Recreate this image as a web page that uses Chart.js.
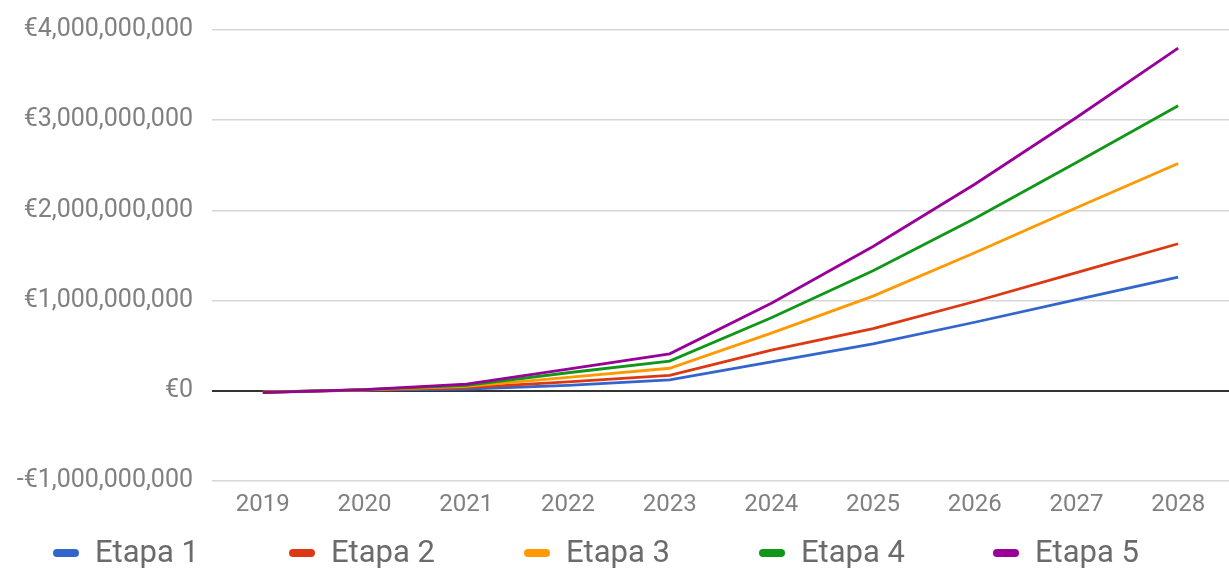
<!DOCTYPE html>
<html>
<head>
<meta charset="utf-8">
<script src="https://cdn.jsdelivr.net/npm/chart.js@4/dist/chart.umd.min.js"></script>
<style>
  html, body { margin: 0; padding: 0; background: #fff; }
  #wrap { position: relative; width: 1229px; height: 570px; }
  #legend { position: absolute; left: 0; top: 534px; width: 1229px; height: 36px; font-family: Roboto, sans-serif; font-size: 31px; color: #6b6b6b; }
  .item { position: absolute; top: 0; height: 36px; line-height: 36px; white-space: nowrap; }
  .swatch { position: absolute; left: 0; top: 15px; width: 26px; height: 8px; border-radius: 4px; }
  .label { position: absolute; left: 42px; top: 0; }
</style>
</head>
<body>
<div id="wrap">
  <canvas id="growth" width="1229" height="570"></canvas>
  <div id="legend"></div>
</div>
<script>
// years on the x axis
const years = ['2019', '2020', '2021', '2022', '2023', '2024', '2025', '2026', '2027', '2028'];

// cumulative value per stage, in euros
const etapa1 = [-12e6, 8e6, 20e6, 60e6, 120e6, 320e6, 520e6, 760e6, 1010e6, 1260e6];
const etapa2 = [-14e6, 9e6, 35e6, 100e6, 170e6, 450e6, 690e6, 990e6, 1310e6, 1630e6];
const etapa3 = [-16e6, 10e6, 50e6, 150e6, 250e6, 640e6, 1050e6, 1530e6, 2030e6, 2520e6];
const etapa4 = [-18e6, 12e6, 60e6, 200e6, 330e6, 810e6, 1330e6, 1910e6, 2530e6, 3160e6];
const etapa5 = [-20e6, 14e6, 75e6, 240e6, 410e6, 970e6, 1600e6, 2290e6, 3030e6, 3800e6];

const seriesNames = ['Etapa 1', 'Etapa 2', 'Etapa 3', 'Etapa 4', 'Etapa 5'];
const seriesData = [etapa1, etapa2, etapa3, etapa4, etapa5];
const colors = ['#3366cc', '#dc3912', '#ff9900', '#109618', '#990099'];

// y axis ticks
const yMin = -1e9, yMax = 4e9, yStep = 1e9;

function euro(v) {
    const s = '€' + Math.abs(v).toLocaleString('en-US');
    return v < 0 ? '-' + s : s;
}

const datasets = seriesData.map((d, i) => ({
    label: seriesNames[i],
    data: d,
    borderColor: colors[i],
    backgroundColor: colors[i],
    borderWidth: 2.8,
    pointRadius: 0,
    tension: 0,
    order: seriesData.length - i   // later stages on top
}));

new Chart(document.getElementById('growth'), {
    type: 'line',
    data: { labels: years, datasets: datasets },
    options: {
        responsive: false,
        animation: false,
        devicePixelRatio: 1,
        layout: { padding: { top: 30, right: 0, left: 0, bottom: 0 } },
        plugins: { legend: { display: false }, tooltip: { enabled: false } },
        scales: {
            x: {
                offset: true,
                grid: { display: false, drawTicks: false },
                border: { display: false },
                ticks: { color: '#808080', font: { family: 'Roboto, sans-serif', size: 24 }, padding: 10, maxRotation: 0 },
                afterFit: (scale) => { scale.height = 89; }
            },
            y: {
                min: yMin,
                max: yMax,
                grid: {
                    drawTicks: false,
                    color: (ctx) => ctx.tick && ctx.tick.value === 0 ? '#333333' : '#d6d6d6',
                    lineWidth: (ctx) => ctx.tick && ctx.tick.value === 0 ? 2 : 1.6
                },
                border: { display: false },
                ticks: {
                    stepSize: yStep,
                    color: '#808080',
                    font: { family: 'Roboto, sans-serif', size: 25, lineHeight: 1 },
                    padding: 19,
                    callback: (v) => euro(v)
                },
                afterFit: (scale) => { scale.width = 212; scale.paddingTop = 0; }
            }
        }
    }
});

// legend row under the chart
const legend = document.getElementById('legend');
const legendLeft = [53, 289, 524, 759, 993];
seriesNames.forEach((name, i) => {
    const item = document.createElement('div');
    item.className = 'item';
    item.style.left = legendLeft[i] + 'px';
    item.innerHTML = '<span class="swatch" style="background:' + colors[i] + '"></span><span class="label">' + name + '</span>';
    legend.appendChild(item);
});
</script>
</body>
</html>
